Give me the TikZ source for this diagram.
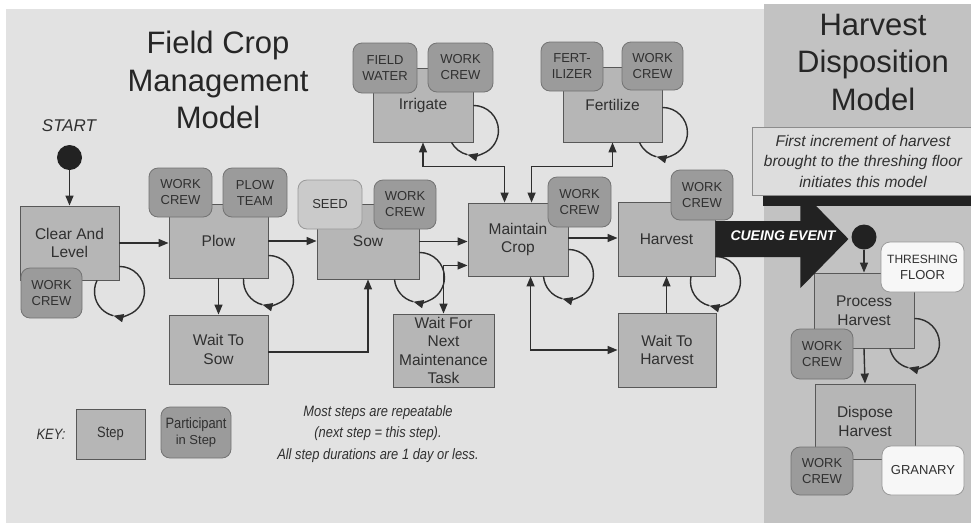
\documentclass[tikz,border=0pt]{standalone}
\usepackage{fontspec}
\setmainfont{Liberation Sans}
\newfontfamily\narrowfont[FakeStretch=0.86]{Liberation Sans}
\usetikzlibrary{arrows.meta,calc}
\definecolor{bgc}{HTML}{E2E2E2}
\definecolor{panelc}{HTML}{C2C2C2}
\definecolor{stepc}{HTML}{B6B6B6}
\definecolor{partc}{HTML}{9B9B9B}
\definecolor{seedc}{HTML}{CACACA}
\definecolor{whitec}{HTML}{F7F7F7}
\definecolor{linec}{HTML}{2E2E2E}
\definecolor{txtc}{HTML}{303030}
\definecolor{notec}{HTML}{DDDDDD}
\definecolor{darkc}{HTML}{222222}
\newcommand\mkbox[7]{\node[#1,minimum width={(#5)-(#3)},minimum height={(#6)-(#4)}] (#2) at ({((#3)+(#5))/2},{-((#4)+(#6))/2}) {#7};}
\newcommand\selfloop[2]{%
  \draw[conn,-{Triangle[length=10pt,width=8pt]}] ($(#1.south east)+(0,#2)+(0,25)$) arc[start angle=90,end angle=-104,radius=25];
  \pgfmathsetmacro\loopend{-180+asin((#2)/25)}
  \draw[conn] ($(#1.south east)+(0,#2)+(-104:25)$) arc[start angle=-104,end angle=\loopend,radius=25];}
\tikzset{
  stepbox/.style={draw=linec!80,fill=stepc,line width=0.9pt,align=center,text=txtc,inner sep=0pt,font=\fontsize{15.5}{18.5}\selectfont},
  partbox/.style={draw=black!55,fill=partc,rounded corners=9pt,line width=0.8pt,align=center,text=txtc,inner sep=0pt,font=\fontsize{13}{16}\selectfont},
  seedbox/.style={partbox,fill=seedc,draw=black!40},
  whitebox/.style={partbox,fill=whitec,draw=black!40},
  conn/.style={draw=linec,line width=1.4pt},
  arr/.style={conn,-{Triangle[length=10pt,width=8pt]}},
  barr/.style={conn,{Triangle[length=10pt,width=8pt]}-{Triangle[length=10pt,width=8pt]}},
  dot/.style={circle,fill=darkc,inner sep=0pt,minimum size=25pt},
  titletext/.style={align=center,text=black!85,font=\fontsize{31}{37.5}\selectfont},
}
\begin{document}
\begin{tikzpicture}[x=1pt,y=1pt]
\useasboundingbox (0,0) rectangle (971,-523);
\fill[white] (0,0) rectangle (971,-523);
\fill[bgc] (6,-9) rectangle (971,-523);
\fill[panelc] (764,-4) rectangle (971,-523);

% titles
\node[titletext] (title1) at (218,-80) {Field Crop\\Management\\Model};
\node[titletext] (title2) at (873,-62) {Harvest\\Disposition\\Model};
\node[text=txtc,font=\fontsize{17}{20}\selectfont\itshape] (start) at (69,-126) {START};
\node[dot] (dot1) at (69.5,-157.5) {};

% steps
\mkbox{stepbox}{clear}{20}{206}{119}{280}{Clear And\\Level}
\mkbox{stepbox}{plow}{169}{204}{268}{278}{Plow}
\mkbox{stepbox}{wts}{169}{315}{268}{384}{Wait To\\Sow}
\mkbox{stepbox}{sow}{317}{204}{419}{279}{Sow}
\mkbox{stepbox}{irr}{373}{68}{473}{142}{Irrigate}
\mkbox{stepbox}{fert}{563}{67}{662}{142}{Fertilize}
\mkbox{stepbox}{maint}{468}{203}{568}{276}{Maintain\\Crop}
\mkbox{stepbox}{wfn}{393}{314}{494}{387}{Wait For\\Next\\Maintenance\\Task}
\mkbox{stepbox}{harv}{618}{202}{715}{276}{Harvest}
\mkbox{stepbox}{wth}{618}{313}{716}{387}{Wait To\\Harvest}
\mkbox{stepbox}{proc}{814}{273}{914}{348}{Process\\Harvest}
\mkbox{stepbox}{disp}{815}{384}{915}{459}{Dispose\\Harvest}

% participants
\mkbox{partbox}{clwc}{21}{268}{82}{318}{WORK\\CREW}
\mkbox{partbox}{plwc}{149}{168}{212}{217}{WORK\\CREW}
\mkbox{partbox}{plpt}{223}{168}{287}{217}{PLOW\\TEAM}
\mkbox{seedbox}{seed}{298}{180}{362}{229}{SEED}
\mkbox{partbox}{sowwc}{374}{180}{436}{229}{WORK\\CREW}
\mkbox{partbox}{irrfw}{353}{43}{417}{93}{FIELD\\WATER}
\mkbox{partbox}{irrwc}{428}{43}{493}{92}{WORK\\CREW}
\mkbox{partbox}{ferfz}{541}{42}{603}{91}{FERT-\\ILIZER}
\mkbox{partbox}{ferwc}{622}{42}{683}{90}{WORK\\CREW}
\mkbox{partbox}{mcwc}{548}{177}{611}{227}{WORK\\CREW}
\mkbox{partbox}{hvwc}{671}{170}{733}{220}{WORK\\CREW}
\mkbox{whitebox}{thf}{881}{242}{964}{292}{\fontsize{12}{15}\selectfont THRESHING\\FLOOR}
\mkbox{partbox}{phwc}{791}{329}{853}{379}{WORK\\CREW}
\mkbox{partbox}{dhwc}{791}{447}{853}{495}{WORK\\CREW}
\mkbox{whitebox}{gran}{882}{446}{964}{495}{GRANARY}

% connectors
\draw[arr] (dot1.south) -- (dot1.south |- clear.north);
\draw[arr] (clear.east |- 0,-243) -- (plow.west |- 0,-243);
\draw[arr] (plow.east) -- (sow.west |- plow.east);
\draw[arr] (plow.south) -- (wts.north);
\draw[arr] (wts.east |- 0,-352) -| (sow.south);
\draw[arr] (sow.east) -- (maint.west |- sow.east);
\draw[arr] (maint.east |- 0,-238) -- (harv.west |- 0,-238);
\draw[arr] (wth.north -| harv.south) -- (harv.south);
\draw[barr] (irr.south) -- ++(0,-24) -| ($(maint.north west)+(37,0)$);
\draw[barr] (fert.south) -- ++(0,-24) -| ($(maint.north west)+(64,0)$);
\draw[barr] ($(maint.south west)+(0,11)$) -| (wfn.north);
\draw[barr] ($(maint.south west)+(63,0)$) |- (wth.west);
\draw[arr] (proc.south) -- (disp.north);

\selfloop{clear}{-11}
\selfloop{plow}{-2}
\selfloop{sow}{2}
\selfloop{irr}{12}
\selfloop{fert}{10}
\selfloop{maint}{2}
\selfloop{harv}{-5}
\selfloop{proc}{5}

% cueing event arrow
\fill[darkc] ($(harv.east)+(0,18)$) -- ++(85,0) -- ++(0,31) -- ++(48,-49) -- ++(-48,-49) -- ++(0,31) -- ++(-85,0) -- cycle;
\node[text=white,font=\fontsize{14}{16}\selectfont\bfseries\itshape] (cue) at (783,-236) {CUEING EVENT};
\fill[darkc] (763,-195) rectangle (971,-206);
\node[draw=black!45,fill=notec,line width=0.6pt,minimum width=222pt,minimum height=68pt,inner sep=0pt,align=center,text=txtc,font=\fontsize{15.5}{20.5}\selectfont\itshape] (note) at (863,-161) {First increment of harvest\\brought to the threshing floor\\initiates this model};
\node[dot] (dot2) at (864,-237) {};
\draw[arr] (dot2.south) -- (dot2.south |- proc.north);

% key
\node[text=txtc,font=\fontsize{15}{18}\narrowfont\itshape] (key) at (51,-434) {KEY:};
\mkbox{stepbox}{keystep}{76}{409}{145}{459}{\narrowfont\fontsize{15}{18}\selectfont Step}
\mkbox{partbox}{keypart}{161}{407}{231}{458}{\narrowfont\fontsize{15}{20}\selectfont Participant\\in Step}
\node[align=center,text=txtc,font=\fontsize{15}{21.5}\narrowfont\itshape] (remark) at (378,-434) {Most steps are repeatable\\(next step = this step).\\All step durations are 1 day or less.};
\end{tikzpicture}
\end{document}
